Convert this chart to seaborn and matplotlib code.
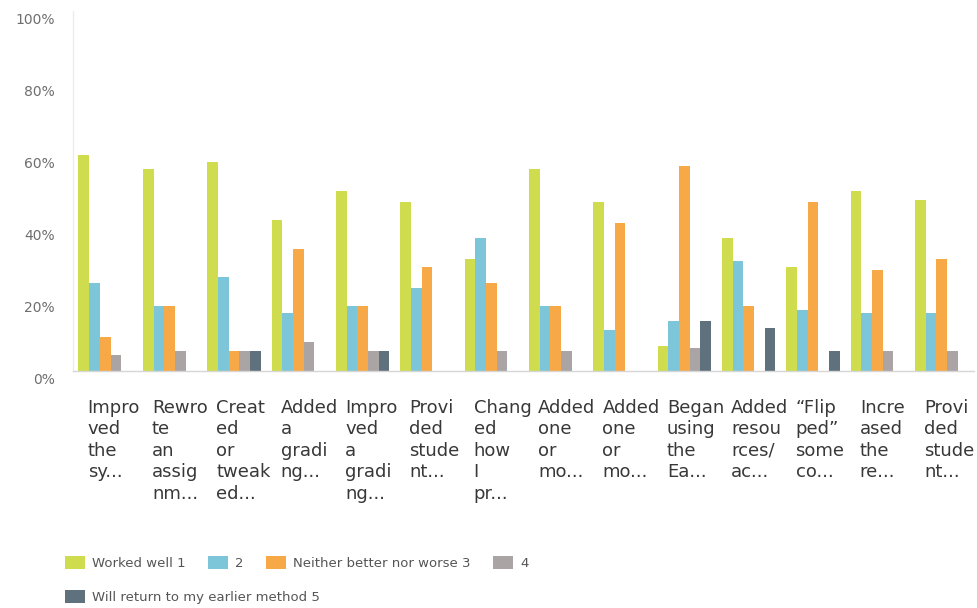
import matplotlib
matplotlib.use("Agg")
import matplotlib.pyplot as plt
import matplotlib.transforms as mtransforms
import pandas as pd
import seaborn as sns

# Survey questions (keys) and their wrapped, truncated axis labels
questions = [
    "Improved the syllabus", "Rewrote an assignment", "Created or tweaked",
    "Added a grading", "Improved a grading", "Provided student (a)",
    "Changed how I present", "Added one or more (a)", "Added one or more (b)",
    "Began using the Early", "Added resources/activities", "Flipped some content",
    "Increased the reflection", "Provided student (b)",
]
tick_labels = [
    "Impro\nved\nthe\nsy...",
    "Rewro\nte\nan\nassig\nnm...",
    "Creat\ned\nor\ntweak\ned...",
    "Added\na\ngradi\nng...",
    "Impro\nved\na\ngradi\nng...",
    "Provi\nded\nstude\nnt...",
    "Chang\ned\nhow\nI\npr...",
    "Added\none\nor\nmo...",
    "Added\none\nor\nmo...",
    "Began\nusing\nthe\nEa...",
    "Added\nresou\nrces/\nac...",
    "\u201cFlip\nped\u201d\nsome\nco...",
    "Incre\nased\nthe\nre...",
    "Provi\nded\nstude\nnt...",
]

series_names = [
    "Worked well 1", "2", "Neither better nor worse 3", "4",
    "Will return to my earlier method 5",
]
worked_well = [60, 56, 58, 42, 50, 47, 31, 56, 47, 7, 37, 29, 50, 47.5]
rating_2 = [24.5, 18, 26, 16, 18, 23, 37, 18, 11.5, 14, 30.5, 17, 16, 16]
neither = [9.5, 18, 5.5, 34, 18, 29, 24.5, 18, 41, 57, 18, 47, 28, 31]
rating_4 = [4.5, 5.5, 5.5, 8, 5.5, 0, 5.5, 5.5, 0, 6.5, 0, 0, 5.5, 5.5]
return_earlier = [0, 0, 5.5, 0, 5.5, 0, 0, 0, 0, 14, 12, 5.5, 0, 0]

colors = ["#cfdc4d", "#7dc5d8", "#f7a948", "#aaa4a4", "#5f717c"]

sns.set_theme(style="white")
plt.rcParams["font.family"] = ["DejaVu Sans"]

rows = []
for name, vals in zip(series_names,
                      [worked_well, rating_2, neither, rating_4, return_earlier]):
    for q, v in zip(questions, vals):
        rows.append({"question": q, "response": name, "pct": v})
df = pd.DataFrame(rows)

fig = plt.figure(figsize=(9.77, 6.08), dpi=100)
fig.patch.set_facecolor("white")
ax = fig.add_axes([73 / 977, 1 - 371 / 608, 901 / 977, 360 / 608])

sns.barplot(
    data=df, x="question", y="pct", hue="response",
    order=questions, hue_order=series_names, palette=colors,
    width=0.83, gap=0, linewidth=0, saturation=1, errorbar=None, ax=ax,
)

handles, labels = ax.get_legend_handles_labels()
if ax.get_legend() is not None:
    ax.get_legend().remove()

ax.set_ylim(0, 100)
ax.set_xlim(-0.5, len(questions) - 0.5)
ax.set_xlabel("")
ax.set_ylabel("")

ax.set_yticks([0, 20, 40, 60, 80, 100])
ax.set_yticklabels([f"{v}%" for v in [0, 20, 40, 60, 80, 100]],
                   fontsize=10, color="#6e6e6e")
ax.set_xticks(range(len(questions)))
ax.set_xticklabels(tick_labels, ha="left", fontsize=13, color="#383838",
                   linespacing=1.25)
ax.tick_params(axis="x", length=0, pad=20)
ax.tick_params(axis="y", length=0, pad=13)

dx = mtransforms.ScaledTranslation(-17.6 / 100, 0, fig.dpi_scale_trans)
for lab in ax.get_xticklabels():
    lab.set_transform(lab.get_transform() + dx)
dy = mtransforms.ScaledTranslation(0, -8 / 100, fig.dpi_scale_trans)
for lab in ax.get_yticklabels():
    lab.set_transform(lab.get_transform() + dy)

for side in ["top", "right"]:
    ax.spines[side].set_visible(False)
ax.spines["left"].set_color("#ececec")
ax.spines["left"].set_linewidth(1)
ax.spines["bottom"].set_color("#d6d6d6")
ax.spines["bottom"].set_linewidth(1)

legend_kw = dict(
    frameon=False, fontsize=9.5, handlelength=1.5, handleheight=1.15,
    handletextpad=0.55, columnspacing=1.7, borderpad=0, borderaxespad=0,
    labelcolor="#555555",
)
fig.legend(handles[:4], labels[:4], loc="center left", ncol=4,
           bbox_to_anchor=(65 / 977, 1 - 563 / 608), **legend_kw)
fig.legend(handles[4:], labels[4:], loc="center left", ncol=1,
           bbox_to_anchor=(65 / 977, 1 - 597 / 608), **legend_kw)

fig.savefig("out.png", dpi=100, facecolor="white")
